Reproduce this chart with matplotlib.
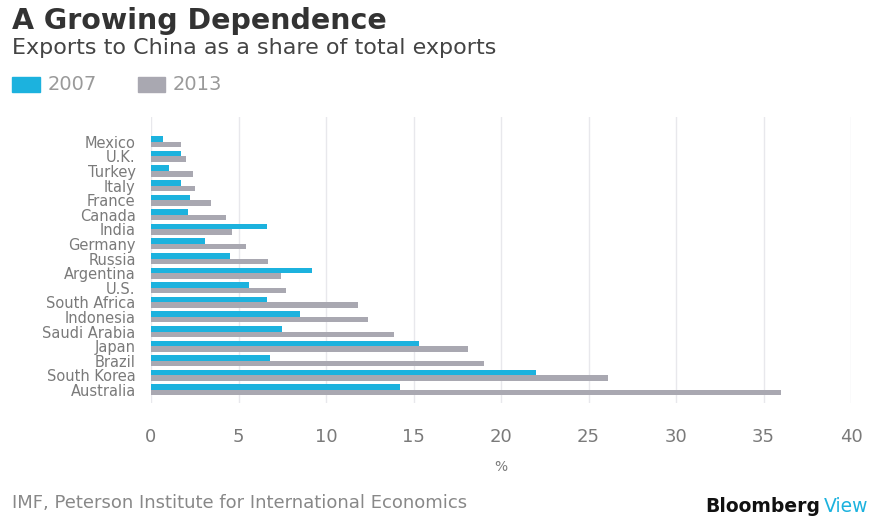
import numpy as np
import matplotlib
matplotlib.use('Agg')
import matplotlib.pyplot as plt
import matplotlib.ticker as ticker
from matplotlib.patches import Rectangle

# exports to China, % of total exports
countries = ['Mexico', 'U.K.', 'Turkey', 'Italy', 'France', 'Canada', 'India',
             'Germany', 'Russia', 'Argentina', 'U.S.', 'South Africa', 'Indonesia',
             'Saudi Arabia', 'Japan', 'Brazil', 'South Korea', 'Australia']
share_2007 = [0.7, 1.7, 1.0, 1.7, 2.2, 2.1, 6.6, 3.1, 4.5, 9.2, 5.6, 6.6, 8.5,
              7.5, 15.3, 6.8, 22.0, 14.2]
share_2013 = [1.7, 2.0, 2.4, 2.5, 3.4, 4.3, 4.6, 5.4, 6.7, 7.4, 7.7, 11.8, 12.4,
              13.9, 18.1, 19.0, 26.1, 36.0]
xticks = [0, 5, 10, 15, 20, 25, 30, 35, 40]

cyan = '#1cb2de'
grey = '#a9a8b1'
txt = '#7a7a7a'

W, H = 877, 517
fig = plt.figure(figsize=(W / 100, H / 100), dpi=100)
ax = fig.add_axes([151 / W, 1 - 403 / H, 700 / W, 286 / H])

y = np.arange(len(countries))
h = 0.38
ax.barh(y - h / 2, share_2007, height=h, color=cyan, zorder=2)
ax.barh(y + h / 2, share_2013, height=h, color=grey, zorder=2)

ax.set_xlim(0, 40)
ax.set_ylim(len(countries) - 1 + 0.9, -1.7)
ax.set_xticks(xticks)
ax.xaxis.set_major_formatter(ticker.FormatStrFormatter('%d'))
ax.set_yticks(y)
ax.set_yticklabels(countries)
ax.grid(axis='x', color='#e8e8ec', linewidth=1, zorder=0)
for s in ax.spines.values():
    s.set_visible(False)
ax.tick_params(axis='both', length=0, colors=txt)
ax.tick_params(axis='x', pad=18, labelsize=13)
ax.tick_params(axis='y', pad=11, labelsize=10.5)
ax.set_xlabel('%', color=txt, fontsize=10, labelpad=10)

# header
fig.text(12 / W, 1 - 21 / H, 'A Growing Dependence', fontsize=20.5, fontweight='bold',
         color='#333333', va='center', ha='left')
fig.text(12 / W, 1 - 48 / H, 'Exports to China as a share of total exports', fontsize=16,
         color='#444444', va='center', ha='left')

# legend
fig.patches.append(Rectangle((12 / W, 1 - 92 / H), 28 / W, 15 / H, color=cyan,
                             transform=fig.transFigure))
fig.text(48 / W, 1 - 84 / H, '2007', fontsize=14, color='#9a9a9a', va='center')
fig.patches.append(Rectangle((138 / W, 1 - 92 / H), 27 / W, 15 / H, color=grey,
                             transform=fig.transFigure))
fig.text(173 / W, 1 - 84 / H, '2013', fontsize=14, color='#9a9a9a', va='center')

# footer
fig.text(12 / W, 1 - 503 / H, 'IMF, Peterson Institute for International Economics',
         fontsize=13, color='#888888', va='center', ha='left')
fig.text(705 / W, 1 - 506 / H, 'Bloomberg', fontsize=13.5, fontweight='bold',
         color='#111111', va='center', ha='left')
fig.text(824 / W, 1 - 506 / H, 'View', fontsize=13.5, color=cyan, va='center', ha='left')

fig.savefig('out.png', dpi=100, facecolor='white')
